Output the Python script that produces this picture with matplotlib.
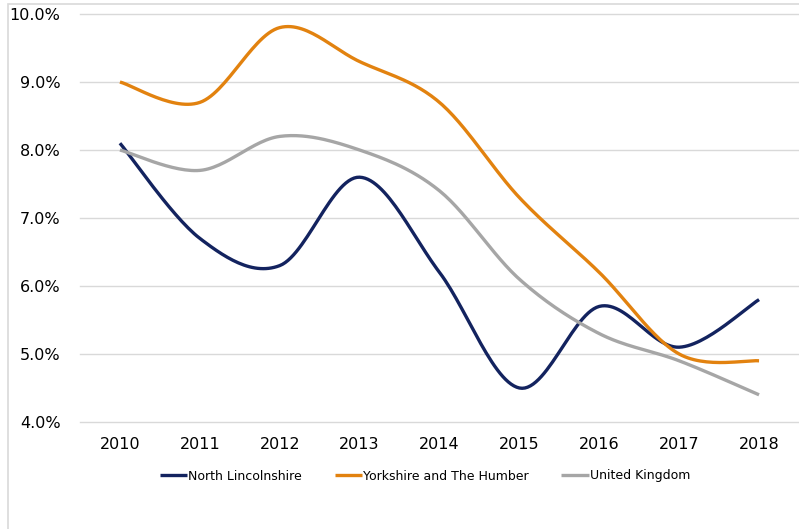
import numpy as np
import matplotlib
matplotlib.use("Agg")
from matplotlib import pyplot as plt
from matplotlib.patches import Rectangle
from matplotlib.ticker import FuncFormatter

years = ["2010", "2011", "2012", "2013", "2014", "2015", "2016", "2017", "2018"]
north_lincs = [8.1, 6.7, 6.3, 7.6, 6.2, 4.5, 5.7, 5.1, 5.8]
yorkshire = [9.0, 8.7, 9.8, 9.3, 8.7, 7.3, 6.2, 5.0, 4.9]
uk = [8.0, 7.7, 8.2, 8.0, 7.4, 6.1, 5.3, 4.9, 4.4]

series_names = ["North Lincolnshire", "Yorkshire and The Humber", "United Kingdom"]
series_colors = ["#13235F", "#E2820F", "#A6A6A6"]


def smooth(x, y, steps=30):
    # Catmull-Rom style smoothing, like Excel's "smoothed line"
    x = np.asarray(x, float)
    y = np.asarray(y, float)
    px = np.concatenate([[x[0]], x, [x[-1]]])
    py = np.concatenate([[y[0]], y, [y[-1]]])
    xs, ys = [], []
    t = np.linspace(0, 1, steps)
    for i in range(1, len(px) - 2):
        p0 = np.array([px[i], py[i]])
        p3 = np.array([px[i + 1], py[i + 1]])
        c1 = p0 + (np.array([px[i + 1], py[i + 1]]) - np.array([px[i - 1], py[i - 1]])) / 6
        c2 = p3 - (np.array([px[i + 2], py[i + 2]]) - np.array([px[i], py[i]])) / 6
        b = ((1 - t) ** 3)[:, None] * p0 + (3 * (1 - t) ** 2 * t)[:, None] * c1 \
            + (3 * (1 - t) * t ** 2)[:, None] * c2 + (t ** 3)[:, None] * p3
        xs.append(b[:, 0])
        ys.append(b[:, 1])
    return np.concatenate(xs), np.concatenate(ys)


fig = plt.figure(figsize=(7.99, 5.29), dpi=100)
ax = fig.add_axes([80 / 799, 107 / 529, 719 / 799, 408 / 529])

# light frame of the chart area (partly cropped in the original)
fig.patches.append(Rectangle((8 / 799, -0.1), 1.2, (525 / 529) + 0.1, transform=fig.transFigure,
                             fill=False, edgecolor="#D9D9D9", linewidth=1.2))

xpos = np.arange(len(years))
for vals, name, col in zip([north_lincs, yorkshire, uk], series_names, series_colors):
    sx, sy = smooth(xpos, vals)
    ax.plot(sx, sy, color=col, linewidth=2.4, label=name, solid_capstyle="butt")

ax.set_xlim(-0.5, 8.5)
ax.set_ylim(4.0, 10.0)
ax.set_yticks(np.arange(4, 10.01, 1))
ax.yaxis.set_major_formatter(FuncFormatter(lambda v, p: f"{v:.1f}%"))
ax.set_xticks(xpos)
ax.set_xticklabels(years)
ax.grid(axis="y", color="#D9D9D9", linewidth=1)
for gl in ax.yaxis.get_gridlines():
    gl.set_clip_on(False)
ax.set_axisbelow(True)
for s in ax.spines.values():
    s.set_visible(False)
ax.tick_params(length=0, labelsize=11.5, colors="#000000")
ax.tick_params(axis="y", pad=14)
ax.tick_params(axis="x", pad=11)

ax.legend(loc="center", bbox_to_anchor=(425 / 799, 1 - 476 / 529), bbox_transform=fig.transFigure,
          ncol=3, frameon=False, fontsize=9, handlelength=2.2, handletextpad=0.1, columnspacing=2.6)

fig.savefig("out.png", dpi=100)
